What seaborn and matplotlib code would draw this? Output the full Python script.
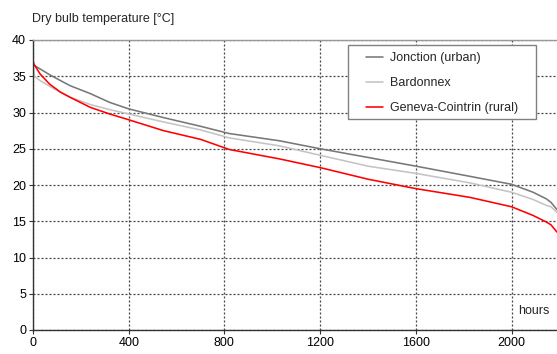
"""
Dry bulb temperature duration curves for three Geneva stations.
"""

import matplotlib
matplotlib.use("Agg")
import matplotlib.pyplot as plt
from matplotlib.patches import Rectangle
import pandas as pd
import seaborn as sns

# ------------------------------------------------------------------
# Data (hours ranked by temperature)
# ------------------------------------------------------------------
hours = [0, 5, 30, 70, 115, 155, 240, 320, 400, 545, 700, 820, 1030,
         1200, 1400, 1600, 1825, 2000, 2090, 2145, 2165, 2190]
jonction = [36.7, 36.5, 36.0, 35.2, 34.4, 33.7, 32.6, 31.4, 30.5, 29.3, 28.1,
            27.1, 26.1, 25.0, 23.8, 22.6, 21.2, 20.1, 19.0, 18.1, 17.6, 16.6]
bardonnex = [37.0, 35.0, 34.4, 33.6, 32.8, 32.1, 31.1, 30.4, 29.8, 28.7, 27.6,
             26.5, 25.4, 24.1, 22.6, 21.6, 20.3, 19.0, 18.0, 17.2, 17.0, 16.2]
cointrin = [37.1, 36.6, 35.3, 33.9, 32.8, 32.1, 30.7, 29.8, 29.0, 27.5, 26.3,
            24.9, 23.6, 22.4, 20.8, 19.5, 18.3, 17.0, 15.8, 14.9, 14.5, 13.5]

stations = ["Jonction (urban)", "Bardonnex", "Geneva-Cointrin (rural)"]
colors = ["#787878", "#c4c4c4", "#ff0000"]

x_ticks = [0, 400, 800, 1200, 1600, 2000]
y_ticks = [0, 5, 10, 15, 20, 25, 30, 35, 40]

df = pd.concat([
    pd.DataFrame({"hours": hours, "temp": vals, "station": name})
    for name, vals in zip(stations, [jonction, bardonnex, cointrin])
])

# ------------------------------------------------------------------
# Plot
# ------------------------------------------------------------------
sns.set_theme(style="white")
plt.rcParams["font.family"] = ["Liberation Sans", "DejaVu Sans"]

fig = plt.figure(figsize=(5.57, 3.54), dpi=100)
ax = fig.add_axes([33 / 557, 24 / 354, 524 / 557, 290 / 354])

sns.lineplot(data=df, x="hours", y="temp", hue="station",
             palette=dict(zip(stations, colors)), linewidth=1.15,
             legend=False, ax=ax)

ax.set_xlim(0, 2190)
ax.set_ylim(0, 40)
ax.set_xticks(x_ticks)
ax.set_yticks(y_ticks)
ax.set_xlabel("")
ax.set_ylabel("")
ax.tick_params(axis="both", labelsize=9, colors="#333333", length=3,
               width=0.8, direction="out", left=True, bottom=True, pad=2)
ax.tick_params(axis="both", labelcolor="black")

ax.grid(True, color="#444444", linestyle=(0, (1.6, 1.6)), linewidth=0.9)
ax.spines["right"].set_visible(False)
ax.spines["top"].set_color("#999999")
ax.spines["top"].set_linewidth(1.0)
for s in ["left", "bottom"]:
    ax.spines[s].set_color("#333333")
    ax.spines[s].set_linewidth(1.0)

# legend: handles only, frame drawn as a plain rectangle under it
handles = [plt.Line2D([], [], color=c, linewidth=1.15) for c in colors]
leg = ax.legend(handles, stations, loc="upper left", frameon=False,
                fontsize=9, bbox_to_anchor=(365.7 / 557, 1 - 52.5 / 354),
                bbox_transform=fig.transFigure, borderpad=0, borderaxespad=0,
                handlelength=1.4, handletextpad=0.55, labelspacing=1.04)
leg.set_zorder(6)
ax.add_patch(Rectangle((348 / 557, 1 - 119 / 354), 188 / 557, 74 / 354,
                       transform=fig.transFigure, facecolor="white",
                       edgecolor="#808080", linewidth=1.0, zorder=5,
                       clip_on=False))

fig.text(32 / 557, 1 - 22 / 354, "Dry bulb temperature [°C]", fontsize=9,
         ha="left", va="baseline")
ax.text(2095, 2.65, "hours", fontsize=9, ha="center", va="center")

plt.savefig("out.png", dpi=100)
